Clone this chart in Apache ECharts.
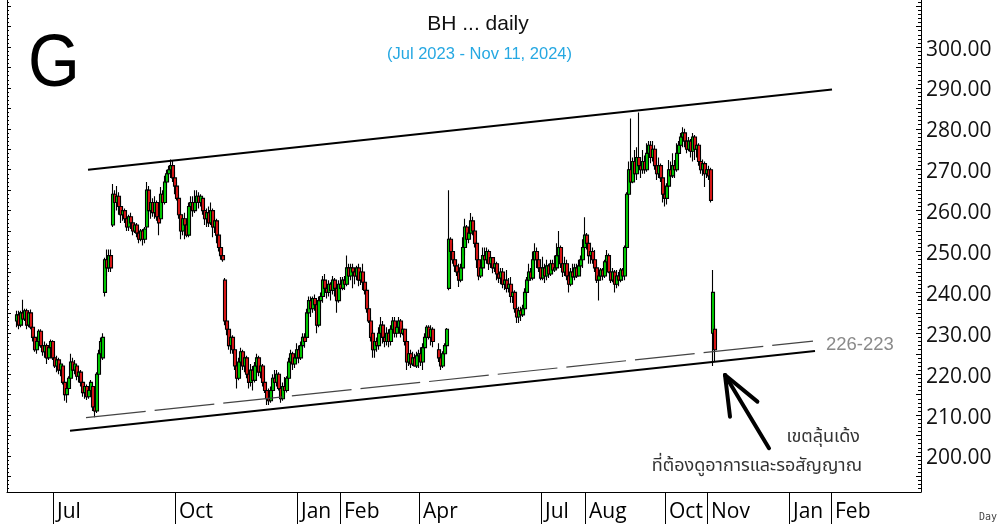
<!DOCTYPE html>
<html><head><meta charset="utf-8">
<script src="https://cdn.jsdelivr.net/npm/echarts@6/dist/echarts.min.js"></script>
<style>html,body{margin:0;padding:0;background:#fff}#c{width:1008px;height:524px}</style>
</head><body><div id="c"></div><script>
// Daily bars [open, close, low, high], Jun 2023 - mid Apr 2024 (trading-day slots from startA)
const startA = 5;
const barsA = [
[233,234.5,231.5,235.5],[234.5,232,231,235.5],[232,235,231.5,235.5],[235,233.5,232,238.2],[233.5,235.5,233,236],[235.5,232,231,236],[232,235,231.5,235.5],[235,231.5,231,235.8],
[231.5,229,228,232.5],[229,226,225.5,229.5],[226,228,225,229],[228,230.5,227,231],[230.5,227,226.5,231],[227,225.5,224.5,228],[225.5,227,224,228],
[227,224,222.5,227.5],[224,226.5,223.5,227],[226.5,228,225.5,228.5],[228,224,223.5,228.3],[224,222,221.5,225],[222,223.5,220.5,224.5],[223.5,221,220,224],[221,222.5,219.5,223],
[222,218,217.5,222.5],[218,215,213.5,218.5],[215,216.5,213,217.5],[216.5,219,216,219.5],
[219,223,218.5,225],[223,221,219.5,224],[221,222.5,220,223.5],
[222,219.5,218.5,222.5],[219.5,220.5,218,221],[220.5,218,217,221],[218,215.5,214.5,218.5],[215.5,217,214,218],[217,214.5,213.7,217.5],[214.5,216,214,216.5],
[216,218,215,218.6],[217,212,211,217.5],[212,211,209.5,213.5],
[211,220,210.5,220.5],[220,225,219,226],[225,228,223,229],[224,229,223.5,230],
[240,248,239,248.5],[248,246,244,250.5],[246,249,245,250.5],[249,246,245,250.5],
[256.5,264,256,266.5],[264,262,259.5,265],[262,263.5,260,266],[263.5,261,259,264.5],[261,259,257,262.5],
[259,260,257.5,261],[260,258,257,260.5],[258,256,255,258.5],[256,258.5,255,259],[258.5,257,255.5,259.5],[257,255,254,258],[255,256.5,254.5,257],[256.5,254.5,253.5,257],[254.5,253,252,256],[253,255,252.5,255.5],[255,253,251.5,255.5],[253,255.5,252,256],
[256,265,255.5,267],[265,260,259,266],[260,262,258,263.5],[262,259.5,258.5,263],[259.5,262,258,263.5],[262,258.5,257.5,262.5],[258.5,257,254,259],
[258,264,257.5,265.8],[264,262,261,265],[262,267,261.5,268.5],[267,269,265.5,270],[269,270,267,271],[270,271,268,272.5],[271,268,267,272.2],
[268,266,264,269.5],[266,263,262.5,267],[263,259,258,264],[259,255,253,259.5],[255,258,254,259],[258,256.5,253,259.5],[256.5,254,253.5,258],[254,261,253.5,262],[261,262,259,263.5],[262,260,258.5,263.5],[260,262,259.4,265],[262,263.5,260,265],[263.5,262,260.5,264.5],[262,263.5,261,264],
[263,260,259,263.5],[260,258,256.5,261],[258,259.5,256,260.5],[259.5,257,256,261],[257,260,256.5,262],[260,256,253.5,260.5],[256,257.5,254.5,258.5],[257.5,254,252,258],[254,251,250,254.5],[251,249,248,252],[249,248,247.5,251],
[243,233,232,243.5],[233,231,229.5,233],[231,227,226,232],[227,229,225,230.5],[229,226,225,229.5],[226,222,221,227],[222,219,216.5,223],[219,223,218.5,224],[223,225.5,222,226.5],[225.5,222,221,226],[222,224,220.5,225],
[224,220,219,224.5],[220,218,216.5,221],[218,221,217,222.5],[221,218.5,216,222],[218.5,222,218,223],[222,224,221.5,225],[224,220.5,219.5,224.5],[220.5,222,219,222.7],[222,218,217,222.5],[218,216,215.4,219],[216,214,212.5,216.5],
[214,213.5,212.5,216.5],[213.5,216,213,217],[216,219,215.5,220],[219,218,216,221],[218,220,217,221],[220,216.5,216,220.5],[216.5,214,213,217],[214,217,213.5,218],[217,216,215,219.3],[216,219,215.5,219.5],
[219,223,218.5,224],[223,225,222,226],[225,222.5,221,225.5],[222.5,224,221.5,225],[224,226,223,227.6],[226,224,222.7,227],[224,227,223.5,228],[227,229,226,230],[229,228,226.5,230],
[229,235,228.5,236],[235,238,234,239],[238,236,234,239],[236,238.5,235,239],[238.5,237,235.5,239.5],[237,232,230,238],[232,238,231.5,239],[238,239,236,240],
[239,243,237.5,244],[243,241,239,244.5],[241,240,238.5,242],[240,242,239,243],[242,240.5,238,242.5],[240.5,243,239.5,244],[243,241,239,243.5],[241,238,235,242],[238,242,237.5,243],[242,241,240.6,243.8],[241,243,240.5,243.8],[243,242,240.6,244],[242,246,241.5,249],[246,244,242,247],[244,246,243,247],[246,245,241,247],[245,244,242,246],[244,246,243,246.5],[246,243,241.5,247],[243,245,241.8,246],[245,242.5,240.6,247],[242.5,240.5,239.5,243],
[240.5,236,235,241],[236,233,232.5,237],[233,229,228,234],[230,226,224,231],
[226,228,224,228.5],[228,227,225.5,229],[227,230,226,231.5],[230,232,229,234],[232,229,227.5,233],[229,228,226.6,231],[228,230,227,231.5],[230,228,226.6,231],[228,231,227,232],[231,233,230,234],[233,230,229,234],[230,231.5,229,233],[231.5,233,230,234],[233,230,229,233.5],[230,231,229.5,232],[231,228,227,231],
[228,223,221,228.5],[223,225,222,226],[225,222.5,221.5,226],[222.5,224,222,225.5],[224,222,221.8,225],[222,224.5,221.5,225.5],[224.5,225,221.5,226],[225,223,222,226.6],[223,226.5,221,227.6],
[226.5,229,226,230],[229,231.5,228,232],[231.5,229,228.5,232],[229,231,227,232],[231,228,226.6,231.5]
];
// Daily bars after the April holiday gap, to early Nov 2024
const startB = 216;
const barsB = [
[226,224,223,227.6],[224,222,221,226],[222,225,221.5,225.6],[225,227,224.5,227.6],[227,231,225,231.3],
[241,253,240.5,265],
[253,250,248,253.5],[250,248,247,252],[248,246.5,245,249.5],[246.5,245,244,248],[245,243,241.3,247],[243,246,242.5,247],[246,251,245.5,253.5],
[251,256,249,258],[256,253,251.5,256.5],[253,254.5,252,255],[254.5,257.5,254,259.4],[257.5,255,254,258.5],[255,252,251,257],
[252,248,246,252.5],[248,244,243,249],[244,246,243.5,247],[246,249,245.5,251],[249,248,247,251],[248,250,247,251],[250,247,245.5,250.5],[247,248.5,246,249],[248.5,246,244.7,248.6],[246,247,245,248],[247,244.5,243,247.5],[244.5,243.5,242.3,246],
[243.5,245,242,246],[245,242,241,246],[242,243,240.6,244.5],[243,241,240,245.5],[241,242,240,243.5],[242,239,237.5,243.8],[239,240,237.4,241],[240,236,235,240.5],[236,234,232.5,237],[234,235.5,232.5,236.5],
[235.5,234.5,233,236.5],[234.5,236,234,237],[236,240,235.5,241],[240,243,239,243.8],[243,245,242.5,247],[245,243.5,243,246],[243.5,248,243,250],[248,250,247,252],[250,248,246,251],
[248,246,245,249],[246,243.5,243,248],[243.5,246,243,248.7],[246,244,242.3,247],[244,246.5,243,248],[246.5,244.5,243.5,247],[244.5,247,244,248],[247,245.5,244.5,248],[245.5,246,245,249],[246,249,245.5,252],[249,251,247.5,255],[251,247,246,251.5],[247,245,243.8,248],[245,247,244,248.7],
[247,244,243,248],[244,242,240,245],[242,245,241.5,246],[245,243.8,243,247],[243.8,246,243,247],[246,244,243.5,247],[244,246.5,244,248],[246.5,248,245,249],[248,251,246,253],[251,254,250,258.4],[254,252,250.5,254.5],[252,249,247,253],[249,250,247,251],[250,248,247,251],
[248,246,245,250.4],[246,243,242.3,247],[243,244,238,245],[244,245.5,243,246],[245.5,244,243,246],[244,247.5,243.5,248],[247.5,249,246,250.4],[249,245,244.7,249.5],[245,243,242.3,246],[243,245,242.5,246],[245,242,240,245.5],[242,244,241,245.5],[244,243,241.5,245],[243,245.5,242.5,246],[245.5,244,243,246],
[244,251,243,251.5],[251,264,250.5,264.5],
[264,270,263,272],[270,267,266.7,282.5],[267,272,266.7,273],[272,269,268,274.8],[269,273,267.5,275.5],[273,271,269,284],[271,270,268,273],[270,272,269,274.8],[272,270,269,273.5],[270,274,269.5,276.5],[274,276,272,277],[276,273,271.6,277],
[273,275,272,277],[275,271,270,276],[271,269,267.5,272],[269,271,268,273],[271,268,267,271.5],[268,264,262,270],[264,263,261,266.7],[263,266,261.5,266.7],
[266,270,265.5,272.4],[270,268.5,268,272],[268.5,271,268,274],[271,270,268,272.4],[270,274,269.5,276.5],[274,276,273.5,277],[276,278,274.8,279],[278,279,275.5,280.4],[279,277,275.5,280],[277,275,274,278],[275,277,274.5,278],[277,274.5,273,277.5],
[274.5,278,272,279],[278,275,272.4,278.5],[275,276,273,277],[276,272,271,276.5],[272,270,269,273],[270,271.5,268.5,272.5],[271.5,269,265.8,272],[269,270,268,270.7],[270,268.5,267.5,271],[270,262.5,262,270.5],
[230,240,222,245.5],[231,226,223,232]
];
// x-axis month ticks (trading-day slot where each labelled month starts)
const monthTickSlots = [23, 84, 145, 166.5, 206, 267, 289, 329, 350, 391, 412];
const monthTickLabels = ['Jul','Oct','Jan','Feb','Apr','Jul','Aug','Oct','Nov','Jan','Feb'];
const priceTicks = [200,210,220,230,240,250,260,270,280,290,300];
// drawn trend lines [slot, price]
const upperChannel = [[40.5, 270.0], [412.5, 289.6]];
const lowerChannel = [[31.5, 206.2], [404, 225.7]];
const supportDashed = [[39.5, 209.4], [403, 228.1]];
const arrowShaft = [[381, 201.9], [359, 219.8]];
const arrowHeadA = [[359, 219.8], [361.5, 209.6]];
const arrowHeadB = [[359, 219.8], [375.2, 213.3]];

const YMIN = 191.2, YMAX = 311.5;
function items(bars, start) {
  const out = [];
  bars.forEach((b, i) => { if (b) out.push([start + i, b[0], b[1], b[2], b[3]]); });
  return out;
}
const data = items(barsA, startA).concat(items(barsB, startB));
function range(a, b, s) { const r = []; for (let v = a; v <= b + 1e-9; v += s) r.push(v); return r; }

function seg(p, style) { return [{ coord: p[0], lineStyle: style }, { coord: p[1] }]; }

const chart = echarts.init(document.getElementById('c'), null, { renderer: 'canvas' });
const axisFont = '"Open Sans", "Noto Sans", sans-serif';
chart.setOption({
  animation: false,
  backgroundColor: '#fff',
  grid: { left: 7, right: 87, top: 0, bottom: 32, containLabel: false },
  xAxis: {
    type: 'value', min: 0, max: 457,
    axisLine: { show: true, lineStyle: { color: '#000', width: 1 } },
    axisTick: { show: true, customValues: monthTickSlots, length: 32, lineStyle: { color: '#000', width: 1 } },
    axisLabel: {
      show: true, customValues: monthTickSlots,
      formatter: v => monthTickLabels[monthTickSlots.indexOf(v)] || '',
      align: 'left', padding: [0, 0, 0, 4], margin: 10,
      fontFamily: axisFont, fontSize: 21, color: '#000'
    },
    splitLine: { show: false }
  },
  yAxis: [
    { type: 'value', position: 'left', min: YMIN, max: YMAX,
      axisLine: { show: true, lineStyle: { color: '#000' } },
      axisTick: { show: true, inside: true, customValues: range(195, 310, 5), length: 4, lineStyle: { color: '#000' } },
      axisLabel: { show: false }, splitLine: { show: false } },
    { type: 'value', position: 'right', min: YMIN, max: YMAX,
      axisLine: { show: true, lineStyle: { color: '#000' } },
      axisTick: { show: true, inside: true, customValues: range(192, 311, 1), length: 3, lineStyle: { color: '#000' } },
      axisLabel: { show: true, customValues: priceTicks, formatter: v => '{p|' + v.toFixed(2) + '}', margin: 5,
        rich: { p: { padding: [5, 0, 0, 0], fontFamily: axisFont, fontSize: 21, color: '#111' } },
        fontFamily: axisFont, fontSize: 21, color: '#111' },
      splitLine: { show: false } },
    { type: 'value', position: 'right', min: YMIN, max: YMAX,
      axisLine: { show: false },
      axisTick: { show: true, inside: true, customValues: range(195, 310, 5), length: 5, lineStyle: { color: '#000' } },
      axisLabel: { show: false }, splitLine: { show: false } },
    { type: 'value', position: 'left', min: YMIN, max: YMAX,
      axisLine: { show: false },
      axisTick: { show: true, inside: true, customValues: range(192, 311, 1), length: 2, lineStyle: { color: '#000' } },
      axisLabel: { show: false }, splitLine: { show: false } }
  ],
  series: [{
    type: 'candlestick', xAxisIndex: 0, yAxisIndex: 1,
    data: data, encode: { x: 0, y: [1, 2, 3, 4] },
    barWidth: 2.7,
    itemStyle: { color: '#00d000', color0: '#e01818', borderColor: '#000', borderColor0: '#000', borderWidth: 1.1 },
    emphasis: { disabled: true },
    markLine: {
      silent: true, animation: false, symbol: ['none', 'none'], label: { show: false },
      emphasis: { disabled: true },
      data: [
        seg(upperChannel, { color: '#000', width: 2, type: 'solid' }),
        seg(lowerChannel, { color: '#000', width: 2, type: 'solid' }),
        seg(supportDashed, { color: '#444', width: 1.2, type: [60, 9] }),
        seg(arrowShaft, { color: '#000', width: 4, type: 'solid', cap: 'round' }),
        seg(arrowHeadA, { color: '#000', width: 4, type: 'solid', cap: 'round' }),
        seg(arrowHeadB, { color: '#000', width: 4, type: 'solid', cap: 'round' })
      ]
    }
  }],
  graphic: [
    { type: 'text', x: 54, y: 66, scaleX: 0.9, style: { text: 'G', font: '74px "Liberation Sans", Arial, sans-serif', fill: '#000', textAlign: 'center', textVerticalAlign: 'middle' } },
    { type: 'text', x: 478, y: 24, style: { text: 'BH ... daily', font: '21px "Liberation Sans", Arial, sans-serif', fill: '#111', textAlign: 'center', textVerticalAlign: 'middle' } },
    { type: 'text', x: 479.5, y: 54, style: { text: '(Jul 2023 - Nov 11, 2024)', font: '16.5px "Liberation Sans", Arial, sans-serif', fill: '#26a8e2', textAlign: 'center', textVerticalAlign: 'middle' } },
    { type: 'text', x: 826, y: 345, style: { text: '226-223', font: '18.5px "Liberation Sans", Arial, sans-serif', fill: '#8a8a8a', textAlign: 'left', textVerticalAlign: 'middle' } },
    { type: 'text', x: 860, y: 438, style: { text: 'เขตลุ้นเด้ง', font: '18px "Noto Sans Thai", "Noto Sans", "DejaVu Sans", sans-serif', fill: '#333', textAlign: 'right', textVerticalAlign: 'middle' } },
    { type: 'text', x: 862, y: 467, style: { text: 'ที่ต้องดูอาการและรอสัญญาณ', font: '18px "Noto Sans Thai", "Noto Sans", "DejaVu Sans", sans-serif', fill: '#333', textAlign: 'right', textVerticalAlign: 'middle' } },
    { type: 'text', x: 988, y: 517, style: { text: 'Day', font: '10px "DejaVu Sans Mono", "Liberation Mono", monospace', fill: '#444', textAlign: 'center', textVerticalAlign: 'middle' } }
  ]
});
</script></body></html>
